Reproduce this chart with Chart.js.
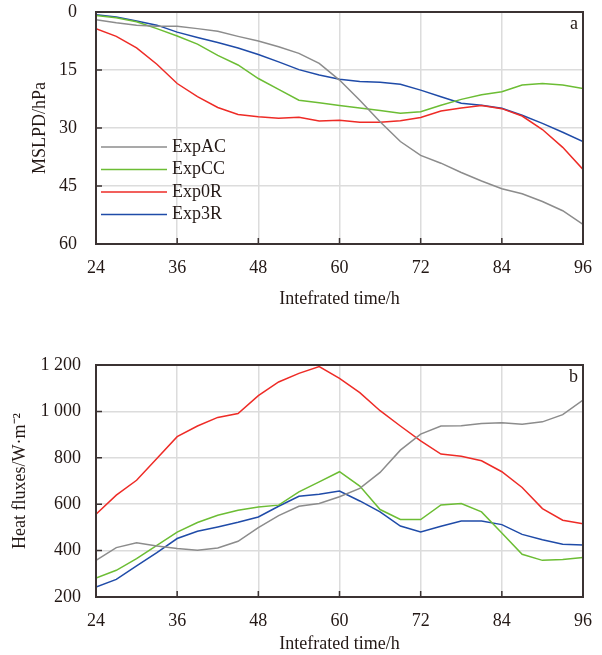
<!DOCTYPE html>
<html>
<head>
<meta charset="utf-8">
<script src="https://cdn.jsdelivr.net/npm/chart.js@4/dist/chart.umd.min.js"></script>
<style>
  html, body { margin: 0; padding: 0; background: #fff; }
  body { width: 602px; height: 655px; position: relative; overflow: hidden; }
  .panel { position: absolute; left: 0; width: 602px; }
  #wrap-a { top: 0; height: 320px; }
  #wrap-b { top: 330px; height: 325px; }
</style>
</head>
<body>
<div class="panel" id="wrap-a"><canvas id="chart-a" width="602" height="320"></canvas></div>
<div class="panel" id="wrap-b"><canvas id="chart-b" width="602" height="325"></canvas></div>
<script>
// --- Data ---
const hours = [24, 27, 30, 33, 36, 39, 42, 45, 48, 51, 54, 57, 60, 63, 66, 69, 72, 75, 78, 81, 84, 87, 90, 93, 96];
const seriesNames = ['ExpAC', 'ExpCC', 'Exp0R', 'Exp3R'];

// MSLPD (hPa), panel a
const mslpdAC = [2.0, 2.8, 3.4, 3.7, 3.7, 4.3, 5.0, 6.3, 7.5, 9.0, 10.7, 13.3, 17.6, 22.8, 28.4, 33.5, 37.1, 39.1, 41.5, 43.7, 45.7, 47.0, 49.0, 51.4, 54.9];
const mslpdCC = [0.9, 1.5, 2.5, 4.3, 6.2, 8.3, 11.2, 13.7, 17.2, 20.0, 22.8, 23.5, 24.2, 24.8, 25.5, 26.2, 25.8, 24.1, 22.6, 21.4, 20.6, 18.9, 18.5, 18.9, 19.8];
const mslpd0R = [4.3, 6.3, 9.3, 13.5, 18.5, 21.9, 24.7, 26.5, 27.1, 27.5, 27.2, 28.2, 28.0, 28.5, 28.5, 28.1, 27.3, 25.6, 24.8, 24.2, 25.0, 26.9, 30.4, 35.0, 40.7];
const mslpd3R = [0.7, 1.3, 2.3, 3.4, 5.2, 6.6, 7.9, 9.3, 11.0, 12.9, 14.9, 16.3, 17.4, 18.0, 18.2, 18.7, 20.2, 21.9, 23.6, 24.1, 24.9, 26.7, 28.8, 31.1, 33.5];

// Heat fluxes (W/m2), panel b
const fluxAC = [358, 413, 434, 420, 409, 401, 411, 440, 499, 551, 591, 603, 632, 668, 737, 833, 902, 937, 938, 948, 951, 945, 955, 986, 1049];
const fluxCC = [282, 315, 365, 423, 480, 521, 552, 574, 588, 596, 653, 696, 740, 678, 577, 534, 534, 597, 603, 567, 476, 384, 358, 362, 370];
const flux0R = [557, 639, 703, 797, 891, 937, 974, 991, 1068, 1127, 1164, 1193, 1142, 1081, 1003, 937, 873, 816, 807, 787, 740, 672, 581, 531, 516];
const flux3R = [243, 276, 334, 391, 452, 483, 502, 522, 545, 591, 634, 643, 657, 614, 567, 506, 480, 505, 528, 528, 512, 470, 447, 427, 424];

const xTicks = [24, 36, 48, 60, 72, 84, 96];
const mslpdTicks = [0, 15, 30, 45, 60];
const fluxTicks = [200, 400, 600, 800, 1000, 1200];

// --- Style ---
const COLORS = ['#8c8c8c', '#6cbd34', '#ee2b26', '#1f4ba8'];
const FONT = 'Liberation Serif, Times New Roman, serif';
const INK = '#231815';
const FRAME = '#3b3333';
const GRID = '#dcdcdc';

function toPoints(values) {
  return values.map((v, i) => ({ x: hours[i], y: v }));
}

function makeDatasets(list) {
  return list.map((values, i) => ({
    label: seriesNames[i],
    data: toPoints(values),
    borderColor: COLORS[i],
    borderWidth: 1.5,
    pointRadius: 0,
    tension: 0,
    fill: false,
  }));
}

// no extra room for half tick labels, layout padding decides the plot box
function noPad(s) {
  s.paddingTop = 0;
  s.paddingBottom = 0;
  s.paddingLeft = 0;
  s.paddingRight = 0;
}

// --- Frame, inner ticks, panel letter, legend ---
const framePlugin = {
  id: 'frame',
  afterDatasetsDraw(chart, args, opts) {
    const { ctx, chartArea: a, scales } = chart;
    ctx.save();
    ctx.strokeStyle = FRAME;
    ctx.lineWidth = 2;
    ctx.strokeRect(a.left, a.top, a.right - a.left, a.bottom - a.top);

    ctx.lineWidth = 1.5;
    ctx.beginPath();
    xTicks.forEach(t => {
      const px = scales.x.getPixelForValue(t);
      ctx.moveTo(px, a.bottom);
      ctx.lineTo(px, a.bottom - 6);
    });
    opts.yTicks.forEach(t => {
      const py = scales.y.getPixelForValue(t);
      ctx.moveTo(a.left, py);
      ctx.lineTo(a.left + 6, py);
    });
    ctx.stroke();

    ctx.fillStyle = INK;
    ctx.font = '18px ' + FONT;
    ctx.textAlign = 'right';
    ctx.textBaseline = 'middle';
    ctx.fillText(opts.letter, a.right - 5, a.top + 12);

    if (opts.legend) {
      chart.data.datasets.forEach((ds, i) => {
        const y = a.top + 135 + i * 22.5;
        ctx.strokeStyle = ds.borderColor;
        ctx.lineWidth = 1.5;
        ctx.beginPath();
        ctx.moveTo(a.left + 5, y);
        ctx.lineTo(a.left + 71, y);
        ctx.stroke();
        ctx.fillStyle = INK;
        ctx.textAlign = 'left';
        ctx.fillText(ds.label, a.left + 76, y);
      });
    }
    ctx.restore();
  }
};

function baseOptions(cfg) {
  return {
    responsive: false,
    animation: false,
    devicePixelRatio: 1,
    layout: { padding: cfg.padding },
    plugins: {
      legend: { display: false },
      tooltip: { enabled: false },
      frame: cfg.frame,
    },
    scales: {
      x: {
        type: 'linear',
        min: 24,
        max: 96,
        afterFit: s => { s.height = cfg.xHeight; noPad(s); },
        afterBuildTicks: s => { s.ticks = xTicks.map(v => ({ value: v })); },
        grid: { color: GRID, lineWidth: 1.5, drawTicks: false },
        border: { display: false },
        ticks: { color: INK, font: { family: FONT, size: 18 }, padding: 13, maxRotation: 0 },
        title: {
          display: true,
          text: 'Intefrated time/h',
          color: INK,
          font: { family: FONT, size: 18 },
          padding: { top: 0, bottom: cfg.xTitlePad },
        },
      },
      y: {
        type: 'linear',
        min: cfg.yMin,
        max: cfg.yMax,
        reverse: cfg.reverse,
        afterFit: s => { s.width = 96; noPad(s); },
        afterBuildTicks: s => { s.ticks = cfg.yTicks.map(v => ({ value: v })); },
        grid: { color: GRID, lineWidth: 1.5, drawTicks: false },
        border: { display: false },
        ticks: {
          color: INK,
          font: { family: FONT, size: 18 },
          padding: cfg.yTickPad,
          callback: cfg.yFormat,
        },
        title: {
          display: true,
          text: cfg.yTitle,
          color: INK,
          font: { family: FONT, size: 18 },
          padding: { top: cfg.yTitlePad, bottom: 0 },
        },
      },
    },
  };
}

// --- Panel a: MSLPD ---
new Chart(document.getElementById('chart-a'), {
  type: 'line',
  data: { datasets: makeDatasets([mslpdAC, mslpdCC, mslpd0R, mslpd3R]) },
  options: baseOptions({
    padding: { top: 12, right: 19, bottom: 0, left: 0 },
    xHeight: 76,
    xTitlePad: 10,
    yMin: 0,
    yMax: 60,
    reverse: true,
    yTicks: mslpdTicks,
    yTickPad: 19,
    yFormat: v => String(v),
    yTitle: 'MSLPD/hPa',
    yTitlePad: 29,
    frame: { letter: 'a', legend: true, yTicks: mslpdTicks },
  }),
  plugins: [framePlugin],
});

// --- Panel b: heat fluxes ---
new Chart(document.getElementById('chart-b'), {
  type: 'line',
  data: { datasets: makeDatasets([fluxAC, fluxCC, flux0R, flux3R]) },
  options: baseOptions({
    padding: { top: 35, right: 19, bottom: 0, left: 0 },
    xHeight: 58,
    xTitlePad: 0,
    yMin: 200,
    yMax: 1200,
    reverse: false,
    yTicks: fluxTicks,
    yTickPad: 15,
    yFormat: v => v >= 1000 ? Math.floor(v / 1000) + ' ' + String(v % 1000).padStart(3, '0') : String(v),
    yTitle: 'Heat fluxes/W\u00b7m\u207b\u00b2',
    yTitlePad: 9,
    frame: { letter: 'b', legend: false, yTicks: fluxTicks },
  }),
  plugins: [framePlugin],
});
</script>
</body>
</html>
